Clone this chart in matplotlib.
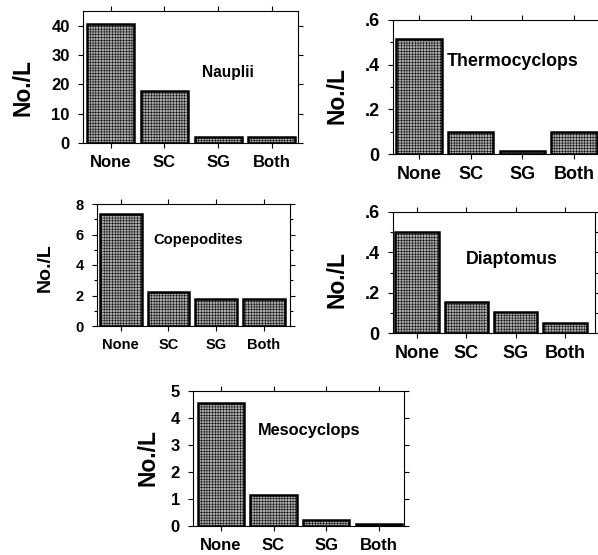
import matplotlib
matplotlib.use("Agg")
import matplotlib.pyplot as plt
from matplotlib.ticker import MultipleLocator, FuncFormatter

plt.rcParams["font.family"] = ["Liberation Sans", "DejaVu Sans"]
plt.rcParams["font.weight"] = "bold"
plt.rcParams["hatch.color"] = "#8a8a8a"
plt.rcParams["hatch.linewidth"] = 0.35

categories = ["None", "SC", "SG", "Both"]

nauplii = [40.5, 17.7, 2.1, 2.1]
thermocyclops = [0.515, 0.098, 0.012, 0.098]
copepodites = [7.35, 2.25, 1.8, 1.8]
diaptomus = [0.5, 0.152, 0.105, 0.051]
mesocyclops = [4.55, 1.15, 0.22, 0.085]

W, H = 598, 555


def no_lead_zero(v, pos):
    if abs(v) < 1e-9:
        return "0"
    s = f"{v:.1f}"
    return s[1:] if s.startswith("0") else s


# name, values, axes box px (left, right, top, bottom), ylim, major, minor,
# xlim, tick size, ylabel size, ylabel centre px, title centre px, title size
panels = [
    ("Nauplii", nauplii, (83, 298, 11, 143), 45, 10, None, (-0.52, 3.49),
     12, 16.5, (23, 87), (228, 72), 11.2),
    ("Thermocyclops", thermocyclops, (393, 600, 20, 154), 0.6, 0.2, 0.1, (-0.5, 3.5),
     13, 16.5, (337, 95), (513, 62), 12.8),
    ("Copepodites", copepodites, (97, 290, 204, 326), 8, 2, 1, (-0.5, 3.55),
     10.5, 14, (45, 268), (198, 240), 10.6),
    ("Diaptomus", diaptomus, (393, 595, 212, 333), 0.6, 0.2, 0.1, (-0.49, 3.61),
     13, 16.5, (337, 280), (512, 260), 12.8),
    ("Mesocyclops", mesocyclops, (193, 404, 391, 526), 5, 1, None, (-0.53, 3.48),
     12, 16.5, (148, 457), (309, 431), 11.8),
]

fig = plt.figure(figsize=(W / 100, H / 100), dpi=100)

for (name, vals, box, ymax, major, minor, xlim, tsize, lsize, lpos, tpos, tfs) in panels:
    l, r, t, b = box
    ax = fig.add_axes([l / W, 1 - b / H, (r - l) / W, (b - t) / H])
    x = list(range(len(categories)))
    ax.bar(x, vals, width=0.88, facecolor="#ababab", edgecolor="black",
           linewidth=1.8, hatch="++++++", zorder=2)
    ax.set_xlim(*xlim)
    ax.set_ylim(0, ymax)
    ax.set_xticks(x)
    ax.set_xticklabels(categories, fontsize=tsize, fontweight="bold")
    ax.yaxis.set_major_locator(MultipleLocator(major))
    if minor:
        ax.yaxis.set_minor_locator(MultipleLocator(minor))
    if ymax < 1:
        ax.yaxis.set_major_formatter(FuncFormatter(no_lead_zero))
    for lab in ax.get_yticklabels():
        lab.set_fontsize(tsize)
        lab.set_fontweight("bold")
    ax.tick_params(which="both", direction="out", top=True, right=True, width=0.8)
    ax.tick_params(which="major", length=3.5)
    ax.tick_params(which="minor", length=2)
    ax.tick_params(axis="y", pad=6)
    ax.tick_params(axis="x", pad=5)
    for sp in ax.spines.values():
        sp.set_linewidth(0.8)
    fig.text(lpos[0] / W, 1 - lpos[1] / H, "No./L", rotation=90, ha="center",
             va="center", fontsize=lsize, fontweight="bold")
    fig.text(tpos[0] / W, 1 - tpos[1] / H, name, ha="center", va="center",
             fontsize=tfs, fontweight="bold")

fig.savefig("out.png", dpi=100)
